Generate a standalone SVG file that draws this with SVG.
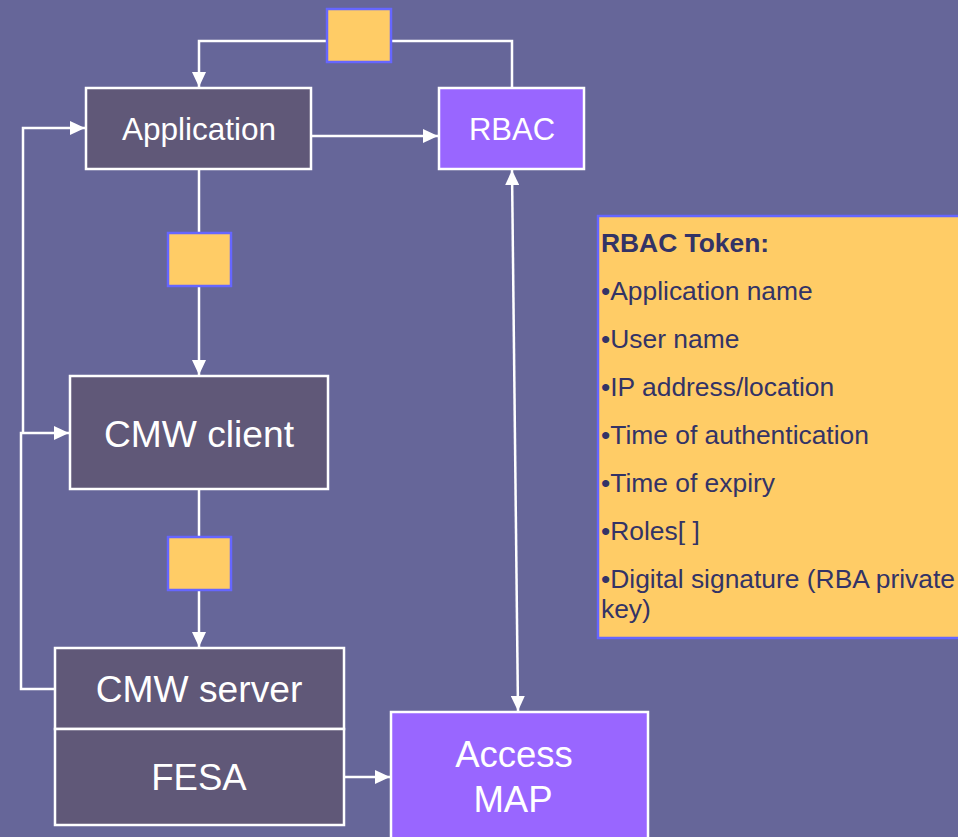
<svg xmlns="http://www.w3.org/2000/svg" width="958" height="837" viewBox="0 0 958 837">
<defs>
<marker id="ah" viewBox="0 0 15 14" refX="15" refY="7" markerWidth="15" markerHeight="14" markerUnits="userSpaceOnUse" orient="auto-start-reverse">
<path d="M0,0 L15,7 L0,14 z" fill="#ffffff"/>
</marker>
<style>
.bg{fill:#666699}
.conn{fill:none;stroke:#ffffff;stroke-width:2.5}
.dark{fill:#605878;stroke:#ffffff;stroke-width:2.5}
.purple{fill:#9966ff;stroke:#ffffff;stroke-width:2.5}
.tok{fill:#ffcc66;stroke:#6666ff;stroke-width:2.5}
.lbl{fill:#ffffff;font-family:'Liberation Sans',Arial,sans-serif;text-anchor:middle}
.tt{fill:#333366;font-family:'Liberation Sans',Arial,sans-serif;font-size:26.4px}
</style>
</defs>
<rect class="bg" x="0" y="0" width="958" height="837"/>
<g id="connectors">
<path class="conn" d="M512,88 V41 H199 V87" marker-end="url(#ah)"/>
<path class="conn" d="M311,136 H438" marker-end="url(#ah)"/>
<path class="conn" d="M199,169 V375" marker-end="url(#ah)"/>
<path class="conn" d="M199,489 V647" marker-end="url(#ah)"/>
<path class="conn" d="M23,433 V128 H85" marker-end="url(#ah)"/>
<path class="conn" d="M55,689 H21 V433 H69" marker-end="url(#ah)"/>
<path class="conn" d="M344,777 H390" marker-end="url(#ah)"/>
<path class="conn" d="M512,170 L518,711" marker-start="url(#ah)" marker-end="url(#ah)"/>
</g>
<g id="token-top"><rect class="tok" x="327" y="9" width="64" height="53"/></g>
<g id="token-mid"><rect class="tok" x="168" y="233" width="63" height="53"/></g>
<g id="token-low"><rect class="tok" x="168" y="537" width="63" height="53"/></g>
<g id="application"><rect class="dark" x="86" y="88" width="225" height="81"/><text class="lbl" x="199" y="140" font-size="31.5">Application</text></g>
<g id="rbac"><rect class="purple" x="439" y="88" width="145" height="81"/><text class="lbl" x="512" y="140" font-size="31">RBAC</text></g>
<g id="cmw-client"><rect class="dark" x="70" y="376" width="258" height="113"/><text class="lbl" x="199" y="447" font-size="37.2">CMW client</text></g>
<g id="cmw-server"><rect class="dark" x="55" y="648" width="289" height="81"/><text class="lbl" x="199" y="702" font-size="37.2">CMW server</text></g>
<g id="fesa"><rect class="dark" x="55" y="729" width="289" height="96"/><text class="lbl" x="199" y="790" font-size="36.5">FESA</text></g>
<g id="access-map"><rect class="purple" x="391" y="712" width="257" height="140"/><text class="lbl" x="514" y="767" font-size="36.5">Access</text><text class="lbl" x="513" y="812" font-size="36.5">MAP</text></g>
<g id="rbac-token">
<rect class="tok" x="598" y="216" width="370" height="422"/>
<text class="tt" x="601" y="252" font-weight="bold">RBAC Token:</text>
<text class="tt" x="601" y="300">•Application name</text>
<text class="tt" x="601" y="348">•User name</text>
<text class="tt" x="601" y="396">•IP address/location</text>
<text class="tt" x="601" y="444">•Time of authentication</text>
<text class="tt" x="601" y="492">•Time of expiry</text>
<text class="tt" x="601" y="540">•Roles[ ]</text>
<text class="tt" x="601" y="588">•Digital signature (RBA private</text>
<text class="tt" x="601" y="618">key)</text>
</g>
</svg>
